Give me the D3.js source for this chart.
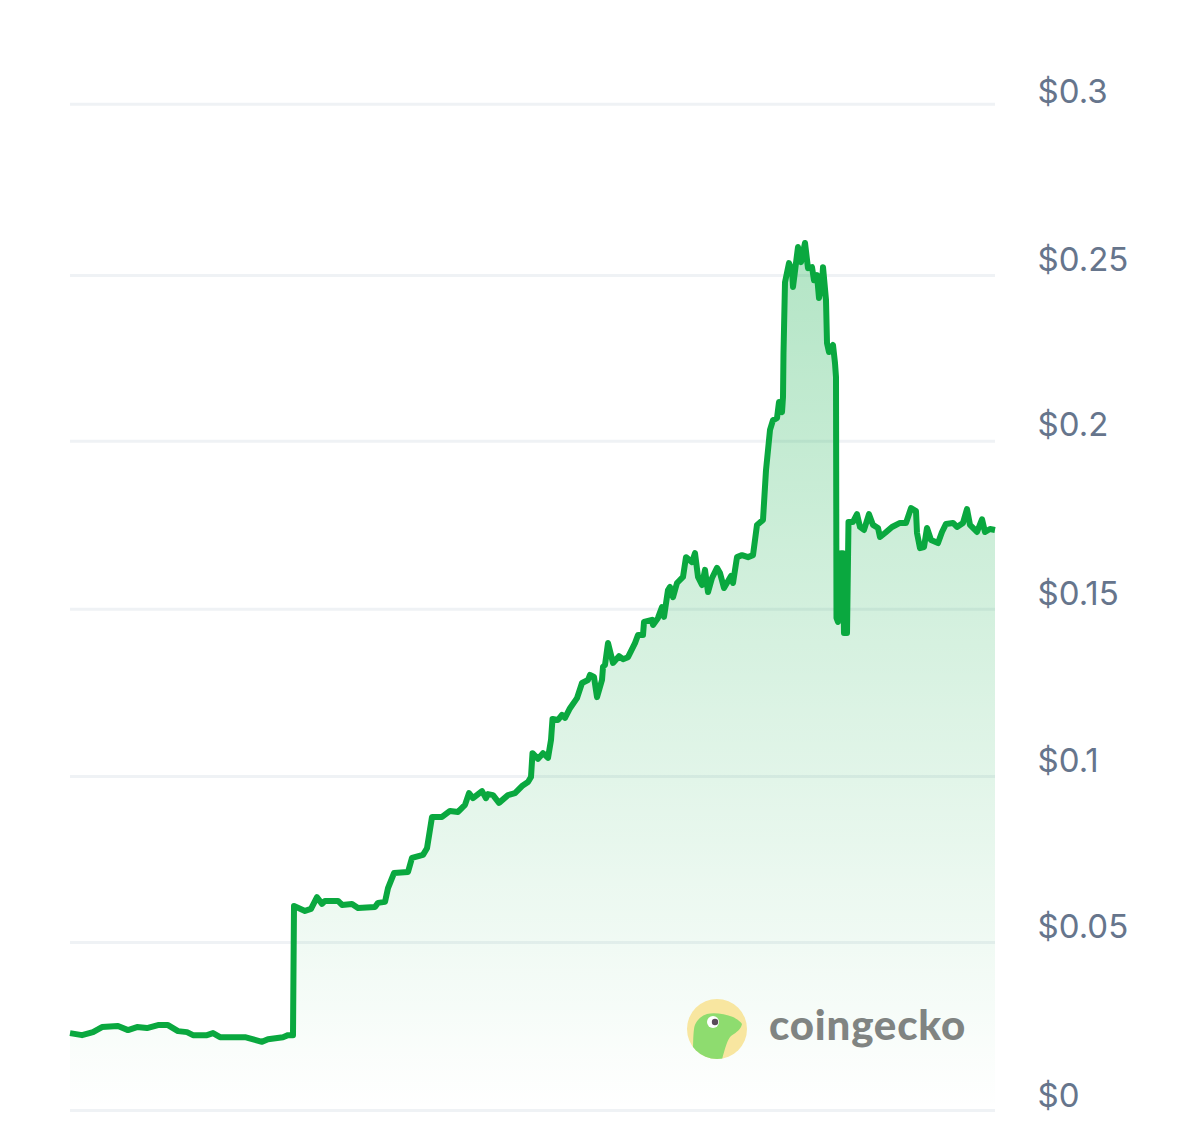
<!DOCTYPE html>
<html>
<head>
<meta charset="utf-8">
<script src="https://cdn.jsdelivr.net/npm/d3@7"></script>
<style>
  html, body { margin: 0; padding: 0; background: #fff; }
  svg { display: block; }
</style>
</head>
<body>
<svg id="chart"></svg>
<script>
// sample time, in arbitrary units along the window (no date labels in the chart)
let times = [
  0, 12, 23, 32, 48, 58, 67, 77, 88, 98, 108, 117, 123, 137, 143, 150, 175, 192, 198, 213, 218, 223,
  224, 235, 241, 247, 252, 255, 268, 272, 282, 288, 305, 308, 315, 318, 324, 338, 342, 353, 357, 362,
  372, 380, 388, 395, 399, 403, 412, 416, 418, 423, 429, 438, 445, 452, 458, 461, 462.5, 468, 473, 478,
  481, 482.5, 488, 492, 495, 500, 507, 512, 518, 520, 524, 527, 532, 533, 535, 538, 543, 549, 553, 558,
  565, 568, 573, 574, 582, 583, 588, 592, 594, 598, 600, 603, 607, 613, 616, 622, 625, 628, 632, 635,
  638, 642, 647, 650, 654, 661, 663, 667, 672, 678, 683, 687, 693, 696, 700, 703, 707, 709, 712, 713,
  713.5, 715, 719, 722, 723, 728, 731, 735, 738, 742, 744, 747, 749, 752, 753, 756, 757, 759, 763, 765,
  766, 766.5, 768, 771, 773, 774, 777, 778.5, 783, 787, 790, 794, 799, 803, 808, 810, 815, 822, 830,
  836, 841, 846, 847, 850, 854, 857, 861, 868, 872, 876, 883, 887, 893, 897, 900, 907, 912, 915, 920, 925
];
let prices = [
  .0229, .0223, .0232, .0247, .0250, .0238, .0247, .0244, .0253, .0253, .0235, .0232, .0223, .0223, .0229, .0217, .0217, .0203, .0211, .0217, .0223, .0223,
  .0608, .0593, .0599, .0634, .0614, .0623, .0623, .0611, .0614, .0602, .0605, .0617, .0620, .0661, .0706, .0709, .0751, .0760, .0780, .0873,
  .0873, .0891, .0888, .0909, .0944, .0929, .0950, .0929, .0941, .0938, .0915, .0938, .0944, .0965, .0977, .0992, .1063, .1046, .1063, .1049,
  .1102, .1165, .1162, .1177, .1168, .1197, .1227, .1272, .1281, .1296, .1290, .1230, .1281, .1320, .1326, .1391, .1332, .1352, .1343, .1349,
  .1391, .1415, .1415, .1454, .1460, .1445, .1466, .1498, .1469, .1549, .1558, .1528, .1570, .1588, .1647, .1632, .1659, .1588, .1564, .1609,
  .1543, .1585, .1615, .1600, .1555, .1591, .1570, .1647, .1653, .1647, .1653, .1743, .1758, .1906, .2026, .2055, .2061, .2109, .2079, .2124,
  .2255, .2466, .2523, .2502, .2452, .2571, .2526, .2583, .2508, .2511, .2472, .2487, .2419, .2464, .2511, .2413, .2285, .2258, .2279, .2225,
  .2183, .1466, .1454, .1659, .1659, .1421, .1421, .1752, .1752, .1775, .1737, .1728, .1775, .1743, .1734, .1707, .1719, .1737, .1749, .1749,
  .1793, .1784, .1719, .1674, .1677, .1734, .1698, .1689, .1722, .1746, .1749, .1737, .1749, .1790, .1743, .1722, .1760, .1722, .1731, .1728
];
let tickValues = [0, 0.05, 0.1, 0.15, 0.2, 0.25, 0.3];
let tickLabels = ['$0', '$0.05', '$0.1', '$0.15', '$0.2', '$0.25', '$0.3'];

let width = 1200;
let height = 1140;
let plotLeft = 70;
let plotRight = 995;
let plotTop = 103;
let plotBottom = 1110;

let svg = d3.select('#chart').attr('width', width).attr('height', height);

let xScale = d3.scaleLinear().domain([0, 925]).range([plotLeft, plotRight]);
let yScale = d3.scaleLinear().domain([0, 0.3]).range([plotBottom, plotTop]);

// the source rounds its grid and labels unevenly, so they get their own scales
let gridScale = d3.scaleLinear().domain(tickValues).range([1110, 942, 776, 608.7, 440.7, 275, 103.7]);
let labelScale = d3.scaleLinear().domain(tickValues).range([1095, 926, 760, 592.7, 424, 258.7, 90.3]);

let series = times.map((t, i) => ({ t: t, price: prices[i] }));

// area fade
let grad = svg.append('defs').append('linearGradient')
  .attr('id', 'fade')
  .attr('gradientUnits', 'userSpaceOnUse')
  .attr('x1', 0).attr('x2', 0)
  .attr('y1', yScale(d3.max(prices))).attr('y2', plotBottom);
grad.append('stop').attr('offset', 0).attr('stop-color', '#00a83e').attr('stop-opacity', 0.3);
grad.append('stop').attr('offset', 1).attr('stop-color', '#00a83e').attr('stop-opacity', 0);

// gridlines
let grid = svg.append('g')
  .attr('transform', 'translate(' + plotRight + ',0)')
  .call(d3.axisLeft(gridScale).tickValues(tickValues).tickSize(plotRight - plotLeft).tickFormat(''));
grid.select('.domain').remove();
grid.selectAll('line').attr('stroke', '#eff2f5').attr('stroke-width', 3);

// labels sit a little above their gridline
let labels = svg.append('g')
  .attr('transform', 'translate(1037.5,0)')
  .call(d3.axisRight(labelScale).tickValues(tickValues).tickSize(0).tickPadding(0)
    .tickFormat((d, i) => tickLabels[i]));
labels.select('.domain').remove();
labels.selectAll('text')
  .attr('dy', '0.36em')
  .attr('fill', '#66758c')
  .style('font-family', 'Inter, sans-serif')
  .style('font-size', '33px');

let area = d3.area().x(d => xScale(d.t)).y0(plotBottom).y1(d => yScale(d.price));
let line = d3.line().x(d => xScale(d.t)).y(d => yScale(d.price));

svg.append('path').datum(series).attr('d', area).attr('fill', 'url(#fade)');
svg.append('path').datum(series).attr('d', line)
  .attr('fill', 'none')
  .attr('stroke', '#0aa83f')
  .attr('stroke-width', 6)
  .attr('stroke-linejoin', 'round');

// watermark
let logo = svg.append('g').attr('transform', 'translate(717,1029)');
logo.append('clipPath').attr('id', 'logoClip').append('circle').attr('r', 30);
logo.append('circle').attr('r', 30).attr('fill', '#f8e6a0');
logo.append('path')
  .attr('clip-path', 'url(#logoClip)')
  .attr('d', 'M-24,34 C-24,20 -24,8 -23,0 C-22,-8 -16,-13 -10,-15 C-3,-17 8,-15 16,-12 C20,-10 24,-7 25,-5 C24,0 20,3 14,7 C10,11 8,20 4,34 Z')
  .attr('fill', '#8edc6f');
logo.append('circle').attr('cx', -4).attr('cy', -7).attr('r', 6).attr('fill', '#fff');
logo.append('circle').attr('cx', -2).attr('cy', -7).attr('r', 3.2).attr('fill', '#5a4a5a');

svg.append('text')
  .attr('x', 769).attr('y', 1040)
  .attr('fill', '#808482')
  .style('font-family', 'Lato, sans-serif')
  .style('font-weight', 900)
  .style('font-size', '42px')
  .style('letter-spacing', '0.8px')
  .text('coingecko');
</script>
</body>
</html>
